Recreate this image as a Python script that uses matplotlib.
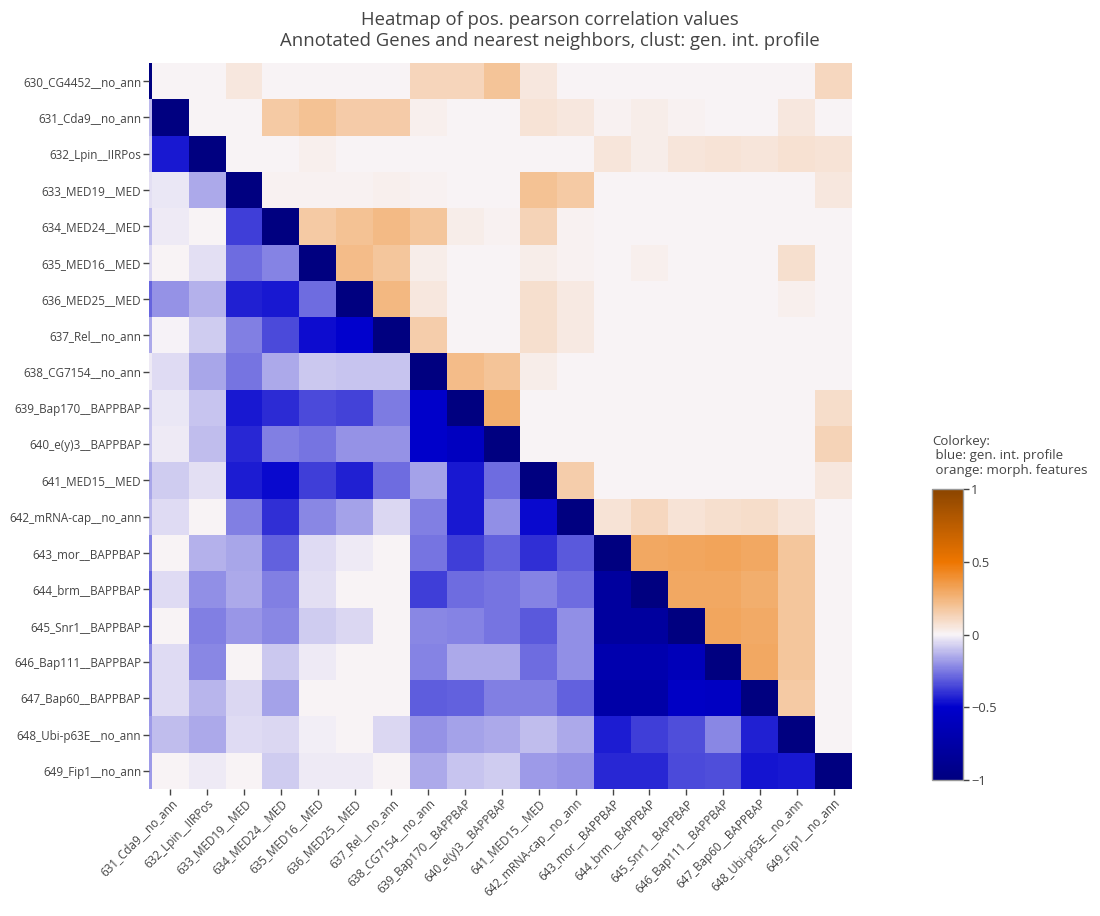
import numpy as np
import matplotlib
matplotlib.use("Agg")
import matplotlib.pyplot as plt
from matplotlib.colors import LinearSegmentedColormap

plt.rcParams['font.family'] = ['Open Sans', 'DejaVu Sans']

labels = [
    "630_CG4452__no_ann", "631_Cda9__no_ann", "632_Lpin__IIRPos", "633_MED19__MED",
    "634_MED24__MED", "635_MED16__MED", "636_MED25__MED", "637_Rel__no_ann",
    "638_CG7154__no_ann", "639_Bap170__BAPPBAP", "640_e(y)3__BAPPBAP", "641_MED15__MED",
    "642_mRNA-cap__no_ann", "643_mor__BAPPBAP", "644_brm__BAPPBAP", "645_Snr1__BAPPBAP",
    "646_Bap111__BAPPBAP", "647_Bap60__BAPPBAP", "648_Ubi-p63E__no_ann", "649_Fip1__no_ann",
]

# rows = labels (top to bottom), columns = labels (left to right)
# upper triangle: morph. features (orange), lower triangle: gen. int. profile (blue)
values = [
    [-1, 0, 0, 0.05, 0, 0, 0, 0, 0.12, 0.12, 0.19, 0.05, 0, 0, 0, 0, 0, 0, 0, 0.11],
    [-0.12, -1, 0, 0, 0.17, 0.2, 0.16, 0.16, 0.02, 0, 0, 0.07, 0.05, 0.015, 0.025, 0.015, 0, 0, 0.05, 0],
    [-0.08, -0.45, -1, 0, 0, 0.02, 0, 0, 0, 0, 0, 0, 0, 0.06, 0.03, 0.055, 0.07, 0.06, 0.075, 0.065],
    [-0.04, -0.03, -0.15, -1, 0.01, 0.01, 0.01, 0.02, 0.01, 0, 0, 0.2, 0.17, 0, 0, 0, 0, 0, 0, 0.05],
    [-0.12, -0.02, 0, -0.37, -1, 0.17, 0.2, 0.23, 0.18, 0.03, 0.015, 0.13, 0.015, 0, 0, 0, 0, 0, 0, 0],
    [-0.06, 0, -0.04, -0.28, -0.23, -1, 0.22, 0.18, 0.03, 0, 0, 0.03, 0.01, 0, 0.02, 0, 0, 0, 0.08, 0],
    [-0.29, -0.2, -0.14, -0.43, -0.45, -0.28, -1, 0.24, 0.05, 0, 0, 0.08, 0.04, 0, 0, 0, 0, 0, 0.02, 0],
    [-0.15, -0.005, -0.08, -0.24, -0.35, -0.47, -0.5, -1, 0.15, 0, 0, 0.08, 0.04, 0, 0, 0, 0, 0, 0, 0],
    [-0.02, -0.05, -0.16, -0.26, -0.15, -0.09, -0.1, -0.1, -1, 0.22, 0.19, 0.03, 0, 0, 0, 0, 0, 0, 0, 0.005],
    [-0.1, -0.03, -0.1, -0.45, -0.41, -0.35, -0.36, -0.25, -0.52, -1, 0.28, 0, 0, 0, 0, 0, 0, 0, 0, 0.09],
    [-0.1, -0.02, -0.11, -0.42, -0.24, -0.26, -0.2, -0.2, -0.52, -0.58, -1, 0, 0, 0, 0, 0, 0, 0, 0, 0.13],
    [-0.16, -0.08, -0.04, -0.44, -0.48, -0.37, -0.43, -0.28, -0.17, -0.45, -0.28, -1, 0.15, 0, 0, 0, 0, 0, 0, 0.05],
    [-0.13, -0.05, 0, -0.24, -0.4, -0.22, -0.17, -0.06, -0.24, -0.45, -0.21, -0.48, -1, 0.07, 0.11, 0.07, 0.08, 0.09, 0.06, 0],
    [-0.24, 0, -0.14, -0.16, -0.3, -0.05, -0.02, 0, -0.26, -0.37, -0.3, -0.4, -0.32, -1, 0.3, 0.31, 0.32, 0.3, 0.18, 0],
    [-0.3, -0.05, -0.21, -0.15, -0.24, -0.04, 0, 0, -0.37, -0.28, -0.26, -0.23, -0.28, -0.8, -1, 0.3, 0.3, 0.28, 0.18, 0],
    [-0.3, 0, -0.24, -0.19, -0.22, -0.08, -0.06, 0, -0.22, -0.23, -0.26, -0.32, -0.21, -0.8, -0.8, -1, 0.31, 0.29, 0.18, 0],
    [-0.22, -0.05, -0.22, 0, -0.09, -0.02, 0, 0, -0.23, -0.15, -0.15, -0.28, -0.21, -0.7, -0.7, -0.63, -1, 0.3, 0.18, 0],
    [-0.22, -0.05, -0.13, -0.06, -0.17, 0, 0, 0, -0.31, -0.3, -0.24, -0.24, -0.3, -0.75, -0.75, -0.55, -0.57, -1, 0.17, 0],
    [-0.18, -0.11, -0.15, -0.05, -0.06, -0.01, 0, -0.06, -0.2, -0.17, -0.15, -0.11, -0.15, -0.44, -0.37, -0.34, -0.22, -0.43, -1, 0],
    [-0.18, 0, -0.02, 0, -0.08, -0.02, -0.02, 0, -0.15, -0.1, -0.08, -0.18, -0.2, -0.42, -0.42, -0.35, -0.34, -0.46, -0.45, -1],
]

cbar_ticks = [-1, -0.5, 0, 0.5, 1]
cbar_ticklabels = ["\u22121", "\u22120.5", "0", "0.5", "1"]

title_text = ("Heatmap of pos. pearson correlation values\n"
              "Annotated Genes and nearest neighbors, clust: gen. int. profile")
cbar_title = "Colorkey:\n blue: gen. int. profile\n orange: morph. features"

cmap = LinearSegmentedColormap.from_list(
    "bo",
    [(0.0, "#000080"), (0.25, "#0000CD"), (0.5, "#F8F4F7"),
     (0.75, "#EE7600"), (1.0, "#8B4500")])

TXT = "#444444"
W, H = 1100, 916
fig = plt.figure(figsize=(W / 100, H / 100), dpi=100)

L, R, T, B = 149, 852, 63, 789
ax = fig.add_axes([L / W, 1 - B / H, (R - L) / W, (B - T) / H])

Z = np.array(values, dtype=float)
n = Z.shape[0]
mesh = ax.pcolormesh(np.arange(n + 1), np.arange(n + 1), Z, cmap=cmap,
                     vmin=-1, vmax=1, shading="flat", edgecolors="none",
                     antialiased=False)
colw = (R - L) / (n - 1 + 0.08)
ax.set_xlim(n - (R - L) / colw, n)
ax.set_ylim(n, 0)

ax.set_yticks(np.arange(n) + 0.5)
ax.set_yticklabels(labels, fontsize=8.4, color=TXT)
ax.set_xticks(np.arange(1, n) + 0.5)
ax.set_xticklabels(labels[1:], fontsize=8.4, color=TXT, rotation=45,
                   ha="right", rotation_mode="anchor")
ax.tick_params(axis="both", length=4, width=1, color=TXT, pad=1.5)
for s in ax.spines.values():
    s.set_visible(False)

# colorbar
cb_l, cb_r, cb_t, cb_b = 932, 963, 489, 780
cax = fig.add_axes([cb_l / W, 1 - cb_b / H, (cb_r - cb_l) / W, (cb_b - cb_t) / H])
cb = fig.colorbar(mesh, cax=cax, ticks=cbar_ticks)
cb.ax.set_yticklabels(cbar_ticklabels)
cb.ax.tick_params(length=4, width=1, color=TXT, labelsize=9.3, labelcolor=TXT, pad=2)
cb.outline.set_edgecolor("#999999")
cb.outline.set_linewidth(1)

fig.text(cb_l / W, 1 - 435 / H, cbar_title, ha="left", va="top",
         fontsize=9.5, color=TXT, linespacing=1.15)

fig.text(0.5, 1 - 11 / H, title_text, ha="center", va="top",
         fontsize=13.3, color=TXT, linespacing=1.2)

fig.savefig("out.png", dpi=100, facecolor="white")
